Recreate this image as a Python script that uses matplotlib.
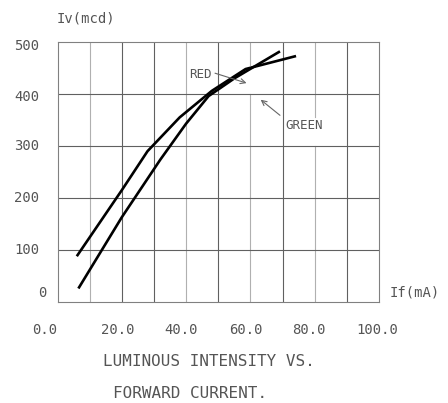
import matplotlib
matplotlib.use("Agg")
import matplotlib.pyplot as plt
import matplotlib.transforms as mtransforms

# ---- data ----
x_ticks = [0, 20, 40, 60, 80, 100]
x_tick_labels = ["0.0", "20.0", "40.0", "60.0", "80.0", "100.0"]
y_ticks = [0, 100, 200, 300, 400, 500]
y_tick_labels = ["0", "100", "200", "300", "400", "500"]

# curve that starts higher (flattens to ~473)
curve_a_if = [6.0, 20.0, 28.0, 38.0, 48.0, 58.5, 74.2]
curve_a_iv = [88, 215, 290, 355, 406, 448, 473]
# curve that starts lower (ends at ~482)
curve_b_if = [6.5, 20.0, 32.0, 40.0, 47.0, 55.0, 69.2]
curve_b_iv = [26, 163, 274, 343, 396, 430, 482]

W, H = 448, 403
fig = plt.figure(figsize=(W / 100, H / 100), dpi=100)
# axes box in pixels: left 57.5, right 379, top 42, bottom 302
L, R, T, B = 57.5, 379.0, 42.0, 302.0
ax = fig.add_axes([L / W, 1 - B / H, (R - L) / W, (B - T) / H])
ax.set_xlim(0, 100)
ax.set_ylim(0, 500)
ax.set_xticks([])
ax.set_yticks([])
for s in ax.spines.values():
    s.set_color("#808080")
    s.set_linewidth(0.8)

MONO = "DejaVu Sans Mono"
TXT = "#555555"

# grid
light = {10, 40, 60, 80}
for xv in range(10, 100, 10):
    col = "#b0b0b0" if xv in light else "#606060"
    if xv == 60:
        segs = [(0.0, 0.8), (0.9115, 1.0)]
    elif xv == 80:
        segs = [(0.0, 0.6), (0.7128, 1.0)]
    else:
        segs = [(0.0, 1.0)]
    for y0, y1 in segs:
        ax.axvline(xv, ymin=y0, ymax=y1, color=col, lw=0.8, zorder=1)
for yv in range(100, 500, 100):
    ax.axhline(yv, color="#606060", lw=0.8, zorder=1)

# curves
ax.plot(curve_a_if, curve_a_iv, color="black", lw=1.9, zorder=3,
        solid_capstyle="butt", solid_joinstyle="round")
ax.plot(curve_b_if, curve_b_iv, color="black", lw=1.9, zorder=3,
        solid_capstyle="butt", solid_joinstyle="round")

# tick labels as text with small pixel offsets
x_off = [-12.5, -4, -5, -5, -6, -1.5]
for xv, lab, dx in zip(x_ticks, x_tick_labels, x_off):
    tr = ax.get_xaxis_transform() + mtransforms.ScaledTranslation(dx / 100, -27.5 / 100, fig.dpi_scale_trans)
    ax.text(xv, 0, lab, transform=tr, ha="center", va="center",
            family=MONO, fontsize=10, color=TXT)

y_dx = [-10.8, -18.2, -18.2, -18.2, -18.2, -18.2]
y_dy = [9, 0, 0, 0, -3, -4]
for yv, lab, dx, dy in zip(y_ticks, y_tick_labels, y_dx, y_dy):
    tr = ax.get_yaxis_transform() + mtransforms.ScaledTranslation(dx / 100, dy / 100, fig.dpi_scale_trans)
    ax.text(0, yv, lab, transform=tr, ha="right", va="center",
            family=MONO, fontsize=10, color=TXT)

# axis labels
fig.text(57.0 / W, 1 - 18.5 / H, "Iv(mcd)", ha="left", va="center",
         family=MONO, fontsize=10, color=TXT)
fig.text(390.0 / W, 1 - 292.5 / H, "If(mA)", ha="left", va="center",
         family=MONO, fontsize=10, color=TXT)

# titles
fig.text(209.0 / W, 1 - 362.0 / H, "LUMINOUS INTENSITY VS.", ha="center", va="center",
         family=MONO, fontsize=11.5, color=TXT)
fig.text(190.0 / W, 1 - 393.0 / H, "FORWARD CURRENT.", ha="center", va="center",
         family=MONO, fontsize=11.5, color=TXT)

# annotations
ax.text(40.8, 438, "RED", ha="left", va="center", family=MONO, fontsize=9, color=TXT)
ax.annotate("", xy=(58.8, 421), xytext=(49.0, 440),
            arrowprops=dict(arrowstyle="->", color="#666666", lw=0.8,
                            shrinkA=0, shrinkB=0, mutation_scale=9))
ax.text(71.0, 339, "GREEN", ha="left", va="center", family=MONO, fontsize=9, color=TXT)
ax.annotate("", xy=(63.2, 389), xytext=(69.2, 359),
            arrowprops=dict(arrowstyle="->", color="#666666", lw=0.8,
                            shrinkA=0, shrinkB=0, mutation_scale=9))

fig.savefig("out.png", dpi=100)
